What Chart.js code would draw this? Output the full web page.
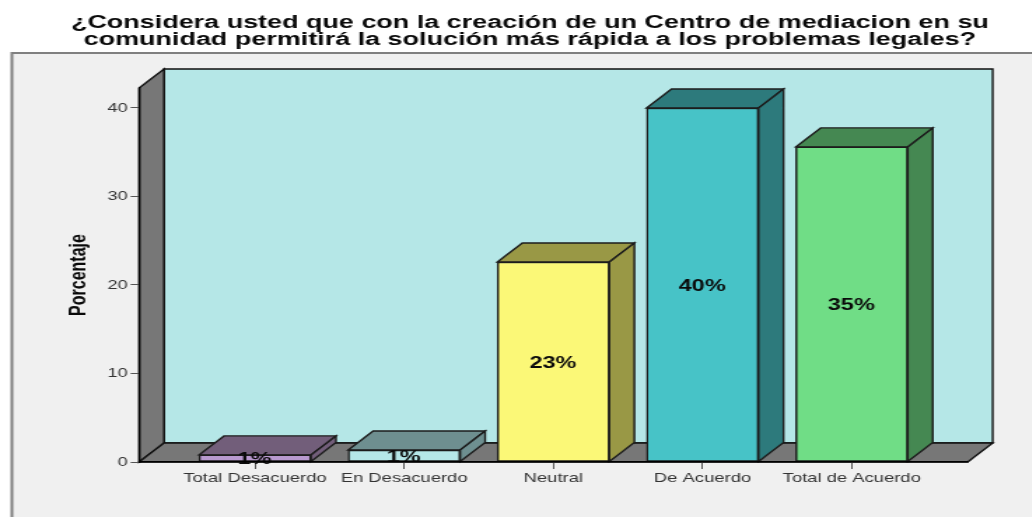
<!DOCTYPE html>
<html><head><meta charset="utf-8">
<style>
html,body{margin:0;padding:0;background:#fff;overflow:hidden;width:1032px;height:517px}
#wrap{position:absolute;left:0;top:0;width:757px;height:517px;transform:scaleX(1.4);transform-origin:0 0;filter:blur(0.35px)}
canvas{display:block}
</style>
<script src="https://cdn.jsdelivr.net/npm/chart.js@4/dist/chart.umd.min.js"></script>
</head><body><div id="wrap"><canvas id="c" width="757" height="517"></canvas></div>
<script>
const titleLines = ['¿Considera usted que con la creación de un Centro de mediacion en su','comunidad permitirá la solución más rápida a los problemas legales?'];
const categories = ['Total Desacuerdo','En Desacuerdo','Neutral','De Acuerdo','Total de Acuerdo'];
const values = [0.8,1.35,22.6,40,35.6];
const valueLabels = ['1%','1%','23%','40%','35%'];
const frontColors = ['#B899CF','#B5E7E8','#FBF877','#47C3C7','#70DD86'];
const shadeColors = ['#725E7A','#6E8F90','#999845','#2D7A7C','#458852'];
const yTicks = [0,10,20,30,40];
const yTitle = 'Porcentaje';
const yMax = 42.26;
const DX = 17.86, DY = 19, EDGE = '#1c1c1c';

function poly(ctx, pts, fill, stroke, lw){
  ctx.beginPath();
  pts.forEach((p,i)=> i?ctx.lineTo(p[0],p[1]):ctx.moveTo(p[0],p[1]));
  ctx.closePath();
  ctx.fillStyle = fill; ctx.fill();
  if(stroke){ctx.strokeStyle = stroke; ctx.lineWidth = lw; ctx.lineJoin='miter'; ctx.stroke();}
}
const stage = {
  id:'stage',
  beforeDraw(chart){
    const {ctx,chartArea:a,width,height} = chart;
    if(chart.titleBlock){chart.titleBlock.left=0;chart.titleBlock.right=width;}
    ctx.save();
    ctx.fillStyle='#fff'; ctx.fillRect(0,0,width,height);
    ctx.fillStyle='#F0F0F0'; ctx.fillRect(8.5,52.5,width,height);
    ctx.strokeStyle='#808080'; ctx.lineWidth=2; ctx.strokeRect(8.5,53,width+20,height+20);
    poly(ctx,[[a.left+DX,a.top-DY],[a.right+DX,a.top-DY],[a.right+DX,a.bottom-DY],[a.left+DX,a.bottom-DY]],'#B5E7E7','#111',1.4);
    poly(ctx,[[a.left,a.top],[a.left+DX,a.top-DY],[a.left+DX,a.bottom-DY],[a.left,a.bottom]],'#777777','#111',1.4);
    poly(ctx,[[a.left,a.bottom],[a.left+DX,a.bottom-DY],[a.right+DX,a.bottom-DY],[a.right,a.bottom]],'#777777','#111',1.4);
    ctx.restore();
  },
  beforeDatasetsDraw(chart){
    const ctx = chart.ctx;
    ctx.save();
    chart.getDatasetMeta(0).data.forEach((b,i)=>{
      const {x,y,base,width} = b.getProps(['x','y','base','width'],true);
      const l=x-width/2, r=x+width/2;
      poly(ctx,[[l,y],[l+DX,y-DY],[r+DX,y-DY],[r,y]],shadeColors[i],EDGE,1.4);
      poly(ctx,[[r,y],[r+DX,y-DY],[r+DX,base-DY],[r,base]],shadeColors[i],EDGE,1.4);
    });
    ctx.restore();
  },
  afterDatasetsDraw(chart){
    const ctx = chart.ctx;
    ctx.save();
    ctx.font='bold 16.8px "Liberation Sans"';
    ctx.fillStyle='#0a0a0a'; ctx.textAlign='center'; ctx.textBaseline='middle';
    chart.getDatasetMeta(0).data.forEach((b,i)=>{
      const {x,y,base} = b.getProps(['x','y','base'],true);
      ctx.fillText(valueLabels[i],x-0.3,(y+base)/2+1.6);
    });
    ctx.restore();
  }
};
new Chart(document.getElementById('c'),{
  type:'bar',
  data:{labels:categories,datasets:[{data:values,backgroundColor:frontColors,borderColor:EDGE,borderWidth:1.5,borderSkipped:false,barThickness:80}]},
  plugins:[stage],
  options:{
    responsive:false,animation:false,devicePixelRatio:1,
    layout:{padding:{left:0,right:65.8,top:0,bottom:0}},
    plugins:{
      legend:{display:false},tooltip:{enabled:false},
      title:{display:true,text:titleLines,color:'#0a0a0a',
        font:{family:'"Liberation Sans"',size:19.25,weight:'bold',lineHeight:0.89},
        padding:{top:14.4,bottom:39.3}}
    },
    scales:{
      x:{
        afterFit(s){s.height=55;},
        afterBuildTicks(s){s._startValue=-0.7772;s._valueRange=5.5544;},
        offset:false,
        grid:{drawOnChartArea:false,color:'#555',tickLength:7,offset:false},
        border:{color:'#000',width:1.6,z:1},
        ticks:{color:'#333',font:{family:'"Liberation Sans"',size:13.15},autoSkip:false,maxRotation:0,padding:1}
      },
      y:{
        min:0,max:yMax,
        afterFit(s){s.width=99.3;},
        afterBuildTicks(s){s.ticks=yTicks.map(v=>({value:v}));},
        grid:{drawOnChartArea:false,color:'#555',tickLength:6},
        border:{color:'#000',width:1.4},
        ticks:{color:'#333',font:{family:'"Liberation Sans"',size:13},padding:2},
        title:{display:true,text:yTitle,color:'#0a0a0a',font:{family:'"Liberation Sans"',size:16,weight:'bold'},padding:{top:47,bottom:0}}
      }
    }
  }
});
</script></body></html>
